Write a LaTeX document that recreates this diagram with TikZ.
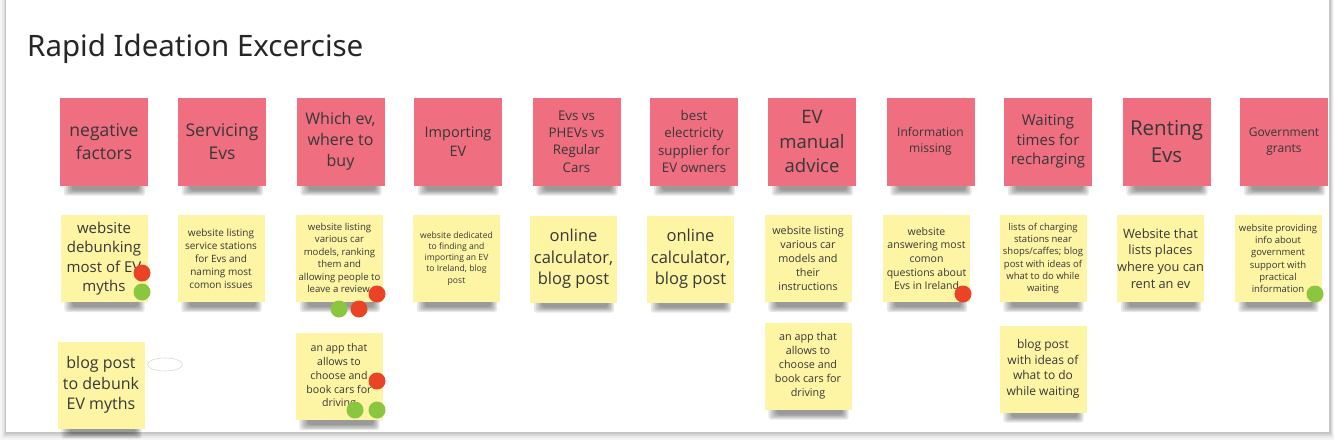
\documentclass[tikz,border=0pt]{standalone}
\usepackage{fontspec}
\setmainfont{Open Sans}
\newfontfamily\titlefont{Noto Sans}
\definecolor{pinknote}{RGB}{239,110,128}
\definecolor{yellownote}{RGB}{253,244,164}
\definecolor{txt}{RGB}{55,55,55}
\definecolor{dotred}{RGB}{234,67,38}
\definecolor{dotgreen}{RGB}{139,198,63}
\pgfdeclarelayer{bottomlayer}
\pgfdeclarelayer{shadowlayer}
\pgfsetlayers{bottomlayer,shadowlayer,main}
\newcommand\nfs[1]{\fontsize{#1}{1.3\dimexpr#1pt\relax}\selectfont}
\tikzset{
  note/.style={rectangle, minimum width=88pt, minimum height=88pt, inner sep=0pt,
    align=center, text=txt},
  pnote/.style={note, fill=pinknote},
  ynote/.style={note, fill=yellownote, minimum width=87pt, minimum height=87pt},
  reddot/.style={circle, fill=dotred, minimum size=17pt, inner sep=0pt},
  greendot/.style={circle, fill=dotgreen, minimum size=17pt, inner sep=0pt},
  shadowpiece/.style={fill=black, opacity=.095, rounded corners=3pt},
}
\begin{document}
\begin{tikzpicture}[x=1pt,y=-1pt]
\useasboundingbox (0,0) rectangle (1334,440);
\begin{pgfonlayer}{bottomlayer}
% panel with soft shadow
\fill[black,opacity=.04] (0,-5) rectangle (1334,440);
\fill[black,opacity=.05] (2,-5) rectangle (1333,438);
\fill[black,opacity=.08] (4,-5) rectangle (1332,436);
\fill[black,opacity=.08] (5,-5) rectangle (1331,434);
\fill[white] (6,-5) rectangle (1329,432);
\end{pgfonlayer}
% title
\node[anchor=base west, inner sep=0pt, text=black!85, font=\titlefont\fontsize{29.5}{34}\selectfont] (title) at (27,56) {Rapid Ideation Excercise};
% pink row
\node[pnote, font=\nfs{17.5}] (p1) at (104,141.5) {negative\\factors};
\node[pnote, font=\nfs{17.5}] (p2) at (222,141.5) {Servicing\\Evs};
\node[pnote, font=\nfs{16}] (p3) at (340.5,141.5) {Which ev,\\where to\\buy};
\node[pnote, font=\nfs{14.5}] (p4) at (458,141.5) {Importing\\EV};
\node[pnote, font=\nfs{13.3}] (p5) at (576.5,141.5) {Evs vs\\PHEVs vs\\Regular\\Cars};
\node[pnote, font=\nfs{13.3}] (p6) at (694,141.5) {best\\electricity\\supplier for\\EV owners};
\node[pnote, font=\nfs{18.5}] (p7) at (812,141.5) {EV\\manual\\advice};
\node[pnote, font=\nfs{12}] (p8) at (930.5,141.5) {Information\\missing};
\node[pnote, font=\nfs{15}] (p9) at (1048,141.5) {Waiting\\times for\\recharging};
\node[pnote, font=\nfs{20.5}] (p10) at (1166.5,141.5) {Renting\\Evs};
\node[pnote, font=\nfs{12}] (p11) at (1284,141.5) {Government\\grants};
% yellow row
\node[ynote, font=\nfs{15}] (y1) at (104,258.5) {website\\debunking\\most of EV\\myths};
\node[ynote, font=\nfs{10}] (y2) at (221,258.5) {website listing\\service stations\\for Evs and\\naming most\\comon issues};
\node[ynote, font=\nfs{9.6}] (y3) at (339.5,258.5) {website listing\\various car\\models, ranking\\them and\\allowing people to\\leave a review,};
\node[ynote, font=\nfs{8.6}] (y4) at (456.5,258.5) {website dedicated\\to finding and\\importing an EV\\to Ireland, blog\\post};
\node[ynote, font=\nfs{16.5}] (y5) at (573.5,259) {online\\calculator,\\blog post};
\node[ynote, font=\nfs{16.5}] (y6) at (690.5,259) {online\\calculator,\\blog post};
\node[ynote, font=\nfs{10.8}] (y7) at (808,258.5) {website listing\\various car\\models and\\their\\instructions};
\node[ynote, font=\nfs{10.5}] (y8) at (926.5,258.5) {website\\answering most\\comon\\questions about\\Evs in Ireland};
\node[ynote, font=\nfs{9.5}] (y9) at (1043,258.5) {lists of charging\\stations near\\shops/caffes; blog\\post with ideas of\\what to do while\\waiting};
\node[ynote, font=\nfs{12.8}] (y10) at (1160.5,258.5) {Website that\\lists places\\where you can\\rent an ev};
\node[ynote, font=\nfs{9.5}] (y11) at (1278,258.5) {website providing\\info about\\government\\support with\\practical\\information};
% bottom row
\node[ynote, font=\nfs{16}] (b1) at (101,385) {blog post\\to debunk\\EV myths};
\node[ynote, font=\nfs{10.6}] (b3) at (339,376.5) {an app that\\allows to\\choose and\\book cars for\\driving};
\node[ynote, font=\nfs{10.8}] (b7) at (808,366) {an app that\\allows to\\choose and\\book cars for\\driving};
\node[ynote, font=\nfs{12}] (b9) at (1043,369) {blog post\\with ideas of\\what to do\\while waiting};
% note shadows
\begin{pgfonlayer}{shadowlayer}
\foreach \n in {p1,p2,p3,p4,p5,p6,p7,p8,p9,p10,p11,y1,y2,y3,y4,y5,y6,y7,y8,y9,y10,y11,b1,b3,b7,b9}{
  \foreach \k in {0,1,2,3,4}{
    \fill[shadowpiece] ([xshift={4pt+2*\k pt}, yshift=4pt]\n.south west) rectangle ([xshift={-3pt-1.5*\k pt}, yshift={-10pt+1.3*\k pt}]\n.south east);
  }
}
\end{pgfonlayer}
% empty ellipse
\draw[black!15, line width=0.6pt] (165,364.5) ellipse [x radius=17.5, y radius=6.5];
% vote dots
\node[reddot] (d1) at (142,273) {};
\node[greendot] (d2) at (142,292) {};
\node[reddot] (d3) at (377,294) {};
\node[greendot] (d4) at (339,309) {};
\node[reddot] (d5) at (359,309) {};
\node[reddot] (d6) at (963,294) {};
\node[greendot] (d7) at (1315,294) {};
\node[reddot] (d8) at (377,381) {};
\node[greendot] (d9) at (355,410) {};
\node[greendot] (d10) at (377,410) {};
\end{tikzpicture}
\end{document}
